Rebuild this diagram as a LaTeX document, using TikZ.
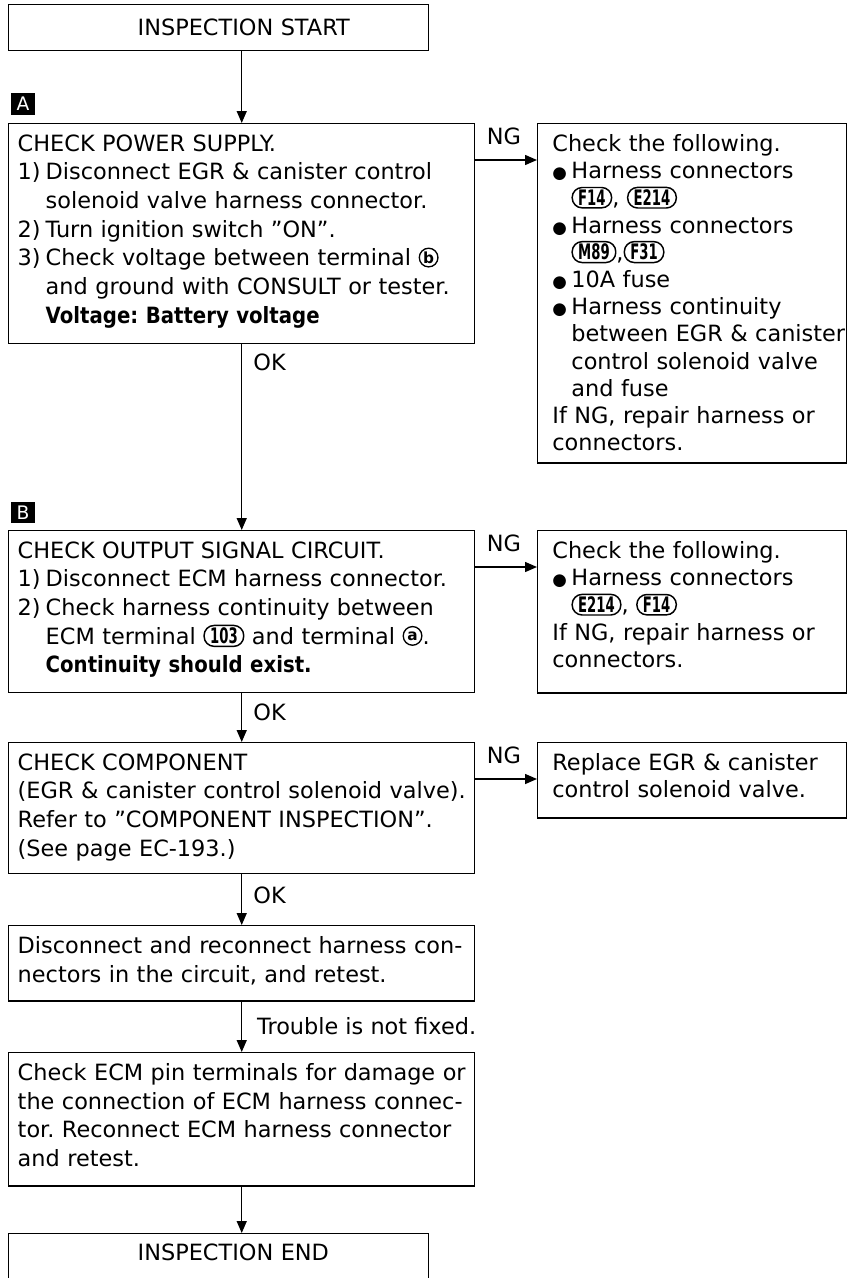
\documentclass[tikz,border=0pt]{standalone}
\usepackage{fontspec}
\setmainfont{DejaVu Sans}
\newfontfamily\narrowfont{DejaVu Sans}[FakeStretch=0.88]
\newfontfamily\tagfont{DejaVu Sans}[FakeStretch=0.62]
\usetikzlibrary{arrows.meta}
\tikzset{
  harn/.style={draw,line width=1.1pt,rounded corners=7.5pt,inner xsep=4.5pt,inner ysep=1.8pt,font=\tagfont\bfseries\fontsize{16}{16}\selectfont},
  termc/.style={draw,circle,line width=1pt,inner sep=0pt,minimum size=14pt,font=\bfseries\fontsize{11.5}{11.5}\selectfont},
}
\newcommand{\mkharn}[1]{%
  \expandafter\newsavebox\csname harn@#1\endcsname
  \global\expandafter\setbox\csname harn@#1\endcsname\hbox{\tikz[baseline={([yshift=-6.1pt]h.center)}]\node[harn] (h) {#1};}}
\newcommand{\mkterm}[1]{%
  \expandafter\newsavebox\csname term@#1\endcsname
  \global\expandafter\setbox\csname term@#1\endcsname\hbox{\tikz[baseline={([yshift=-6.1pt]t.center)}]\node[termc] (t) {#1};}}
\newcommand{\harn}[1]{\usebox{\csname harn@#1\endcsname}}
\newcommand{\term}[1]{\usebox{\csname term@#1\endcsname}}
\newcommand{\itm}[1]{\makebox[1.25em][l]{#1}}
\newcommand{\ind}{\hspace*{1.25em}}
\newcommand{\bul}{\makebox[0.85em][l]{\fontsize{12.5}{12.5}\selectfont ●}}
\newcommand{\bulind}{\hspace*{0.85em}}
\frenchspacing

\begin{document}
\begin{tikzpicture}[
  x=0.75pt,y=-0.75pt,
  font=\fontsize{16.8}{21.5}\selectfont,
  lbox/.style={draw,line width=1.1pt,anchor=north west,align=left,inner xsep=0pt,inner ysep=8pt,text width=349.5pt,execute at begin node={\leftskip=6.75pt\baselineskip=21.5pt}},
  rbox/.style={draw,line width=1.1pt,anchor=north west,align=left,inner xsep=0pt,inner ysep=8pt,text width=231.75pt,execute at begin node={\leftskip=11pt\baselineskip=20.4pt}},
  tbox/.style={draw,line width=1.1pt,anchor=north west,align=left,inner xsep=0pt,text width=315pt,minimum height=34.5pt,execute at begin node={\leftskip=96.75pt}},
  secmark/.style={fill=black,text=white,anchor=south west,minimum width=18pt,minimum height=16pt,inner sep=0pt,font=\fontsize{14}{14}\selectfont},
  arr/.style={-{Triangle[length=9pt,width=7.5pt]},line width=1.1pt},
  lbl/.style={inner sep=0pt},
]
\pgfinterruptpicture
\mkharn{F14}\mkharn{E214}\mkharn{M89}\mkharn{F31}\mkharn{103}%
\mkterm{a}\mkterm{b}%
\endpgfinterruptpicture
\useasboundingbox (0,0) rectangle (849,1278);
\fill[white] (0,0) rectangle (849,1278);
\clip (0,0) rectangle (849,1278);

\node[tbox] (start) at (8,4) {INSPECTION START};
\node[lbox,text depth=136.5pt] (a) at (8,123) {CHECK POWER SUPPLY.\\
\itm{1)}Disconnect EGR \& canister control\\
\ind solenoid valve harness connector.\\
\itm{2)}Turn ignition switch ''ON''.\\
\itm{3)}Check voltage between terminal \term{b}\\
\ind and ground with CONSULT or tester.\\
\ind{\narrowfont\bfseries Voltage: Battery voltage}};
\node[secmark] (ma) at ([xshift=2pt,yshift=6pt]a.north west) {A};
\node[lbox,text depth=93pt] (b) at (8,530) {CHECK OUTPUT SIGNAL CIRCUIT.\\
\itm{1)}Disconnect ECM harness connector.\\
\itm{2)}Check harness continuity between\\
\ind ECM terminal \harn{103} and terminal \term{a}.\\
\ind{\narrowfont\bfseries Continuity should exist.}};
\node[secmark] (mb) at ([xshift=2pt,yshift=5pt]b.north west) {B};
\node[lbox,text depth=69.75pt] (c) at (8,742) {CHECK COMPONENT\\
(EGR \& canister control solenoid valve).\\
Refer to ''COMPONENT INSPECTION''.\\
(See page EC-193.)};
\node[lbox,text depth=27.75pt] (d) at (8,925) {Disconnect and reconnect harness con-\\
nectors in the circuit, and retest.};
\node[lbox,text depth=71.25pt] (e) at (8,1052) {Check ECM pin terminals for damage or\\
the connection of ECM harness connec-\\
tor. Reconnect ECM harness connector\\
and retest.};
\node[tbox,minimum height=36pt,text depth=9pt] (fin) at (8,1233) {INSPECTION END};

\node[rbox,text depth=225.75pt] (ng1) at (537,123) {Check the following.\\
\bul Harness connectors\\
\bulind\harn{F14}, \harn{E214}\\
\bul Harness connectors\\
\bulind\harn{M89},\harn{F31}\\
\bul 10A fuse\\
\bul Harness continuity\\
\bulind between EGR \& canister\\
\bulind control solenoid valve\\
\bulind and fuse\\
If NG, repair harness or\\
connectors.};
\node[rbox,text depth=93pt] (ng2) at (537,530) {Check the following.\\
\bul Harness connectors\\
\bulind\harn{E214}, \harn{F14}\\
If NG, repair harness or\\
connectors.};
\node[rbox,text depth=27.75pt] (ng3) at (537,742) {Replace EGR \& canister\\
control solenoid valve.};

\draw[arr] (start.south -| a.north) -- (a.north);
\draw[arr] (a) -- (b) node[lbl,pos=0,anchor=north west,xshift=8.25pt,yshift=-6.75pt] (okA) {OK};
\draw[arr] (b) -- (c) node[lbl,pos=0,anchor=north west,xshift=8.25pt,yshift=-7.5pt] (okB) {OK};
\draw[arr] (c) -- (d) node[lbl,pos=0,anchor=north west,xshift=8.25pt,yshift=-9pt] (okC) {OK};
\draw[arr] (d) -- (e) node[lbl,pos=0,anchor=north west,xshift=11pt,yshift=-11pt] (tr) {Trouble is not fixed.};
\draw[arr] (e) -- (e.south |- fin.north);
\draw[arr] ([yshift=-27.75pt]a.north east) -- ([yshift=-27.75pt]a.north east -| ng1.west) node[lbl,pos=0,anchor=south west,xshift=8pt,yshift=10.5pt] (ngA) {NG};
\draw[arr] ([yshift=-27.75pt]b.north east) -- ([yshift=-27.75pt]b.north east -| ng2.west) node[lbl,pos=0,anchor=south west,xshift=8pt,yshift=10.5pt] (ngB) {NG};
\draw[arr] ([yshift=-27.75pt]c.north east) -- ([yshift=-27.75pt]c.north east -| ng3.west) node[lbl,pos=0,anchor=south west,xshift=8pt,yshift=10.5pt] (ngC) {NG};
\end{tikzpicture}
\end{document}
